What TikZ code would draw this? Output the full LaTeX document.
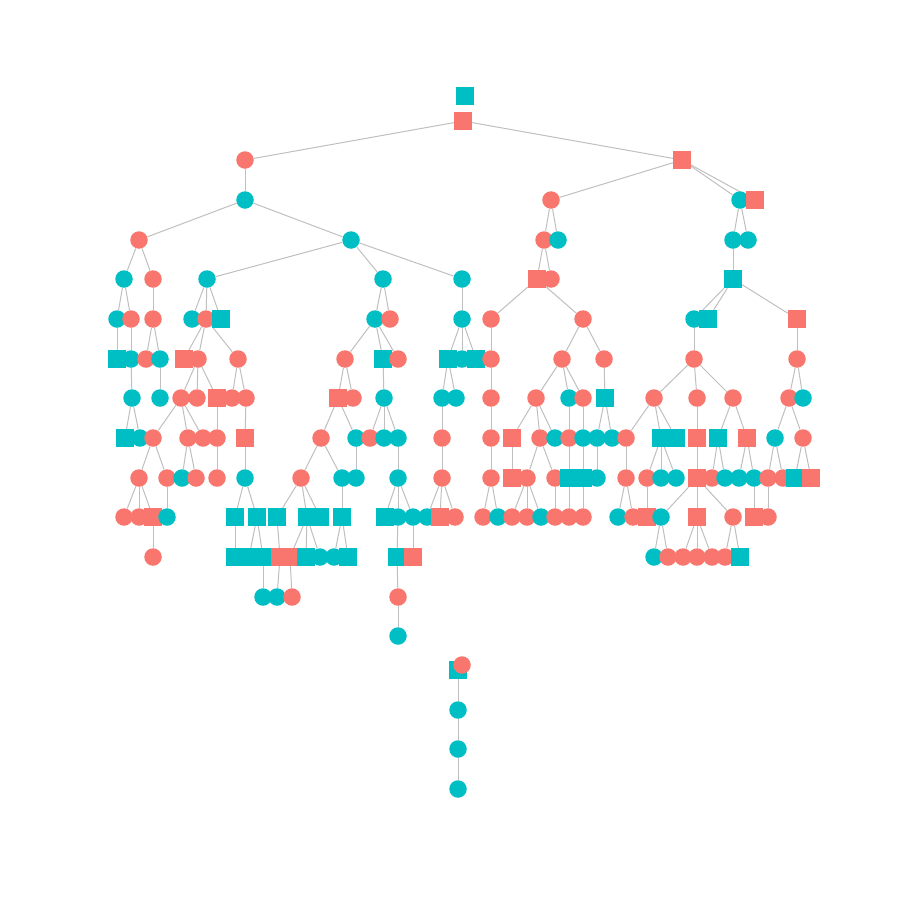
\documentclass[tikz,border=0pt]{standalone}
\pgfdeclarelayer{bg}
\pgfsetlayers{bg,main}
\definecolor{salm}{HTML}{F8766D}
\definecolor{tealc}{HTML}{00BFC4}
\begin{document}
\begin{tikzpicture}[x=0.5pt,y=-0.5pt,
  tcirc/.style={circle,fill=tealc,minimum size=8.75pt,inner sep=0pt,draw=none},
  scirc/.style={circle,fill=salm,minimum size=8.75pt,inner sep=0pt,draw=none},
  tsq/.style={rectangle,fill=tealc,minimum size=8.75pt,inner sep=0pt,draw=none},
  ssq/.style={rectangle,fill=salm,minimum size=8.75pt,inner sep=0pt,draw=none},
  conn/.style={draw=gray!50,line width=0.5pt}]
\useasboundingbox (0,0) rectangle (900,900);
\node[tsq] (r0x465) at (465,96) {};
\node[ssq] (r1x463) at (463,121) {};
\foreach \x/\s in {245/scirc,682/ssq} \node[\s] (r2x\x) at (\x,160) {};
\foreach \x/\s in {245/tcirc,551/scirc,740/tcirc,755/ssq} \node[\s] (r3x\x) at (\x,200) {};
\foreach \x/\s in {139/scirc,351/tcirc,544/scirc,558/tcirc,733/tcirc,748/tcirc} \node[\s] (r4x\x) at (\x,240) {};
\foreach \x/\s in {124/tcirc,153/scirc,207/tcirc,383/tcirc,462/tcirc,537/ssq,551/scirc,733/tsq} \node[\s] (r5x\x) at (\x,279) {};
\foreach \x/\s in {117/tcirc,131/scirc,153/scirc,192/tcirc,206/scirc,221/tsq,375/tcirc,390/scirc,462/tcirc,491/scirc,583/scirc,694/tcirc,708/tsq,797/ssq} \node[\s] (r6x\x) at (\x,319) {};
\foreach \x/\s in {117/tsq,131/tcirc,146/scirc,160/tcirc,184/ssq,198/scirc,238/scirc,345/scirc,383/tsq,398/scirc,448/tsq,462/tcirc,476/tsq,491/scirc,562/scirc,604/scirc,694/scirc,797/scirc} \node[\s] (r7x\x) at (\x,359) {};
\foreach \x/\s in {132/tcirc,160/tcirc,181/scirc,197/scirc,217/ssq,232/scirc,246/scirc,338/ssq,353/scirc,384/tcirc,442/tcirc,456/tcirc,491/scirc,536/scirc,569/tcirc,583/scirc,605/tsq,654/scirc,697/scirc,733/scirc,789/scirc,803/tcirc} \node[\s] (r8x\x) at (\x,398) {};
\foreach \x/\s in {125/tsq,140/tcirc,153/scirc,188/scirc,203/scirc,217/scirc,245/ssq,321/scirc,356/tcirc,370/scirc,384/tcirc,398/tcirc,442/scirc,491/scirc,512/ssq,540/scirc,555/tcirc,569/scirc,583/tcirc,597/tcirc,612/tcirc,626/scirc,661/tsq,676/tsq,697/ssq,718/tsq,747/ssq,775/tcirc,803/scirc} \node[\s] (r9x\x) at (\x,438) {};
\foreach \x/\s in {139/scirc,167/scirc,182/tcirc,196/scirc,217/scirc,245/tcirc,301/scirc,342/tcirc,356/tcirc,398/tcirc,442/scirc,491/scirc,512/ssq,527/scirc,555/scirc,569/tsq,583/tsq,597/tcirc,626/scirc,647/scirc,661/tcirc,676/tcirc,697/ssq,712/scirc,725/tcirc,739/tcirc,754/tcirc,768/scirc,783/scirc,795/tsq,811/ssq} \node[\s] (r10x\x) at (\x,478) {};
\foreach \x/\s in {124/scirc,139/scirc,153/ssq,167/tcirc,235/tsq,257/tsq,277/tsq,307/tsq,320/tsq,342/tsq,385/tsq,398/tcirc,413/tcirc,427/tcirc,440/ssq,455/scirc,483/scirc,498/tcirc,512/scirc,527/scirc,541/tcirc,555/scirc,569/scirc,583/scirc,618/tcirc,633/scirc,647/ssq,661/tcirc,697/ssq,733/scirc,754/ssq,768/scirc} \node[\s] (r11x\x) at (\x,517) {};
\foreach \x/\s in {153/scirc,235/tsq,249/tsq,263/tsq,280/ssq,290/ssq,306/tsq,320/tcirc,334/tcirc,348/tsq,397/tsq,413/ssq,654/tcirc,668/scirc,683/scirc,697/scirc,712/scirc,725/scirc,740/tsq} \node[\s] (r12x\x) at (\x,557) {};
\foreach \x/\s in {263/tcirc,277/tcirc,292/scirc,398/scirc} \node[\s] (r13x\x) at (\x,597) {};
\node[tcirc] (r14x398) at (398,636) {};
\node[tsq] (b1) at (458,670) {};
\node[scirc] (b0) at (462,665) {};
\node[tcirc] (b2) at (458,710) {};
\node[tcirc] (b3) at (458,749) {};
\node[tcirc] (b4) at (458,789) {};
\begin{pgfonlayer}{bg}
\foreach \p/\c in {r1x463/r2x245,r1x463/r2x682,
 r2x245/r3x245,r2x682/r3x551,r2x682/r3x740,r2x682/r3x755,
 r3x245/r4x139,r3x245/r4x351,r3x551/r4x544,r3x551/r4x558,r3x740/r4x733,r3x740/r4x748,
 r4x139/r5x124,r4x139/r5x153,r4x351/r5x207,r4x351/r5x383,r4x351/r5x462,r4x544/r5x537,r4x544/r5x551,r4x733/r5x733,
 r5x124/r6x117,r5x124/r6x131,r5x153/r6x153,r5x207/r6x192,r5x207/r6x206,r5x207/r6x221,r5x383/r6x375,r5x383/r6x390,r5x462/r6x462,r5x537/r6x491,r5x537/r6x583,r5x733/r6x694,r5x733/r6x708,r5x733/r6x797,
 r6x117/r7x117,r6x131/r7x131,r6x153/r7x146,r6x153/r7x160,r6x206/r7x184,r6x206/r7x198,r6x206/r7x238,r6x375/r7x345,r6x375/r7x383,r6x375/r7x398,r6x462/r7x448,r6x462/r7x462,r6x462/r7x476,r6x491/r7x491,r6x583/r7x562,r6x583/r7x604,r6x694/r7x694,r6x797/r7x797,
 r7x131/r8x132,r7x160/r8x160,r7x198/r8x181,r7x198/r8x197,r7x198/r8x217,r7x238/r8x232,r7x238/r8x246,r7x345/r8x338,r7x345/r8x353,r7x383/r8x384,r7x448/r8x442,r7x448/r8x456,r7x491/r8x491,r7x562/r8x536,r7x562/r8x569,r7x562/r8x583,r7x604/r8x605,r7x694/r8x654,r7x694/r8x697,r7x694/r8x733,r7x797/r8x789,r7x797/r8x803,
 r8x132/r9x125,r8x132/r9x140,r8x181/r9x153,r8x181/r9x188,r8x181/r9x203,r8x217/r9x217,r8x246/r9x245,r8x338/r9x321,r8x338/r9x356,r8x384/r9x370,r8x384/r9x384,r8x384/r9x398,r8x442/r9x442,r8x491/r9x491,r8x536/r9x512,r8x536/r9x540,r8x536/r9x555,r8x569/r9x569,r8x583/r9x583,r8x605/r9x597,r8x605/r9x612,r8x654/r9x626,r8x654/r9x661,r8x654/r9x676,r8x697/r9x697,r8x733/r9x718,r8x733/r9x747,r8x789/r9x775,r8x789/r9x803,
 r9x153/r10x139,r9x153/r10x167,r9x188/r10x182,r9x188/r10x196,r9x217/r10x217,r9x245/r10x245,r9x321/r10x301,r9x321/r10x342,r9x356/r10x356,r9x398/r10x398,r9x442/r10x442,r9x491/r10x491,r9x512/r10x512,r9x540/r10x527,r9x540/r10x555,r9x569/r10x569,r9x583/r10x583,r9x597/r10x597,r9x626/r10x626,r9x661/r10x647,r9x661/r10x661,r9x661/r10x676,r9x697/r10x697,r9x718/r10x712,r9x718/r10x725,r9x747/r10x739,r9x747/r10x754,r9x775/r10x768,r9x775/r10x783,r9x803/r10x795,r9x803/r10x811,
 r10x139/r11x124,r10x139/r11x139,r10x139/r11x153,r10x167/r11x167,r10x245/r11x235,r10x245/r11x257,r10x301/r11x277,r10x301/r11x307,r10x301/r11x320,r10x342/r11x342,r10x398/r11x385,r10x398/r11x398,r10x398/r11x413,r10x442/r11x427,r10x442/r11x440,r10x442/r11x455,r10x491/r11x483,r10x491/r11x498,r10x527/r11x512,r10x527/r11x527,r10x527/r11x541,r10x555/r11x555,r10x569/r11x569,r10x583/r11x583,r10x626/r11x618,r10x626/r11x633,r10x647/r11x647,r10x697/r11x661,r10x697/r11x697,r10x697/r11x733,r10x754/r11x754,r10x768/r11x768,
 r11x153/r12x153,r11x235/r12x235,r11x257/r12x249,r11x257/r12x263,r11x277/r12x280,r11x307/r12x290,r11x307/r12x306,r11x307/r12x320,r11x342/r12x334,r11x342/r12x348,r11x398/r12x397,r11x413/r12x413,r11x661/r12x654,r11x661/r12x668,r11x697/r12x683,r11x697/r12x697,r11x697/r12x712,r11x733/r12x725,r11x733/r12x740,
 r12x263/r13x263,r12x280/r13x277,r12x290/r13x292,r12x397/r13x398,r13x398/r14x398,
 b1/b2,b2/b3,b3/b4}
 \draw[conn] (\p) -- (\c);
\end{pgfonlayer}
\end{tikzpicture}
\end{document}
